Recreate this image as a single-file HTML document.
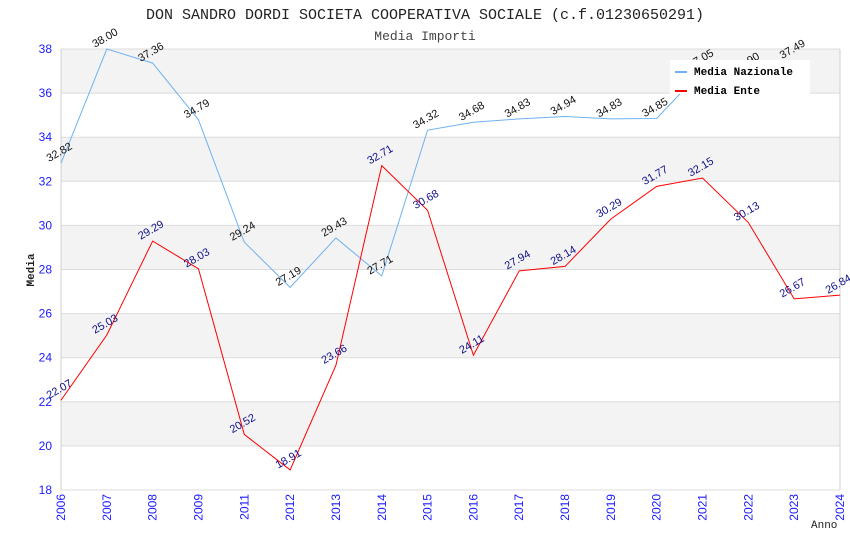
<!DOCTYPE html>
<html><head><meta charset="utf-8"><style>
body{margin:0;background:#fff;width:850px;height:550px;overflow:hidden}
svg{display:block;font-family:"Liberation Sans",sans-serif}
.mono{font-family:"Liberation Mono","DejaVu Sans Mono",monospace}
</style></head><body>
<svg id="chart" width="850" height="550">
<text class="mono" x="425" y="19" text-anchor="middle" font-size="15" fill="#222">DON SANDRO DORDI SOCIETA COOPERATIVA SOCIALE (c.f.01230650291)</text>
<text class="mono" x="425" y="40" text-anchor="middle" font-size="13" fill="#444">Media Importi</text>
<g id="bands"></g><g id="grid"></g><g id="axes"></g><g id="series"></g><g id="labels"></g>
<text class="mono" x="34" y="270" transform="rotate(-90 34 270)" text-anchor="middle" font-size="11" font-weight="bold" fill="#222">Media</text>
<text class="mono" x="811" y="528" font-size="11" fill="#222">Anno</text>
<g id="legend">
<rect x="670" y="60" width="140" height="34" fill="#fff"/>
<line x1="675" y1="72" x2="687" y2="72" stroke="#6fb1f0" stroke-width="2"/>
<text class="mono" x="694" y="75" font-size="11" font-weight="bold" fill="#000">Media Nazionale</text>
<line x1="675" y1="91" x2="687" y2="91" stroke="#f00" stroke-width="2"/>
<text class="mono" x="694" y="94" font-size="11" font-weight="bold" fill="#000">Media Ente</text>
</g>
</svg>
<script>
const categories=["2006","2007","2008","2009","2011","2012","2013","2014","2015","2016","2017","2018","2019","2020","2021","2022","2023","2024"];
const nazionale=[32.82,38.00,37.36,34.79,29.24,27.19,29.43,27.71,34.32,34.68,34.83,34.94,34.83,34.85,37.05,36.9,37.49,null];
const ente=[22.07,25.03,29.29,28.03,20.52,18.91,23.66,32.71,30.68,24.11,27.94,28.14,30.29,31.77,32.15,30.13,26.67,26.84];
const yTicks=[18,20,22,24,26,28,30,32,34,36,38];
const X0=61,X1=840,Y0=490,Y1=49,ymin=18,ymax=38;
const NS="http://www.w3.org/2000/svg";
const xs=i=>X0+(X1-X0)*i/(categories.length-1);
const ys=v=>Y0-(v-ymin)/(ymax-ymin)*(Y0-Y1);
function mk(t,a,p){const e=document.createElementNS(NS,t);for(const k in a)e.setAttribute(k,a[k]);p.appendChild(e);return e;}
const bands=document.getElementById('bands'),grid=document.getElementById('grid'),axes=document.getElementById('axes');
for(let i=0;i<yTicks.length-1;i++){
 if((yTicks.length-2-i)%2===0){const r=mk('rect',{x:X0,y:ys(yTicks[i+1]),width:X1-X0,height:ys(yTicks[i])-ys(yTicks[i+1]),fill:'#f3f3f3'},bands);
 
 }
}
yTicks.forEach(v=>{
 const l=mk('line',{x1:X0,x2:X1,y1:ys(v),y2:ys(v),stroke:'#dcdcdc'},grid);
 
 
 const t=mk('text',{x:52,y:ys(v)+4,'text-anchor':'end','font-size':12,fill:'#1a1aff'},axes);
 t.textContent=v;
 
 
});
mk('line',{x1:X0,x2:X0,y1:Y1,y2:Y0,stroke:'#d0d0d0'},axes);
mk('line',{x1:X1,x2:X1,y1:Y1,y2:Y0,stroke:'#d0d0d0'},axes);
categories.forEach((c,i)=>{
 const x=xs(i)+4,y=494;
 const t=mk('text',{x:x,y:y,transform:`rotate(-90 ${x} ${y})`,'text-anchor':'end','font-size':12,fill:'#1a1aff'},axes);
 t.textContent=c;
 
 
});
const series=document.getElementById('series'),labels=document.getElementById('labels');
function draw(vals,color,lc,name){
 const pts=[];vals.forEach((v,i)=>{if(v!==null)pts.push(xs(i)+','+ys(v));});
 const p=mk('polyline',{points:pts.join(' '),fill:'none',stroke:color,'stroke-width':1},series);
 
 
 vals.forEach((v,i)=>{
  if(v===null)return;
  const x=xs(i),y=ys(v)-8;
  const t=mk('text',{x:x,y:y,transform:`rotate(-30 ${x} ${y})`,'text-anchor':'middle','font-size':11,fill:lc},labels);
  t.textContent=v.toFixed(2);
  
  
 });
}
draw(nazionale,'#6fb1f0','#111','nazionale');
draw(ente,'#f00','#10108a','ente');
document.getElementById('chart').appendChild(document.getElementById('legend'));
</script>
</body></html>
